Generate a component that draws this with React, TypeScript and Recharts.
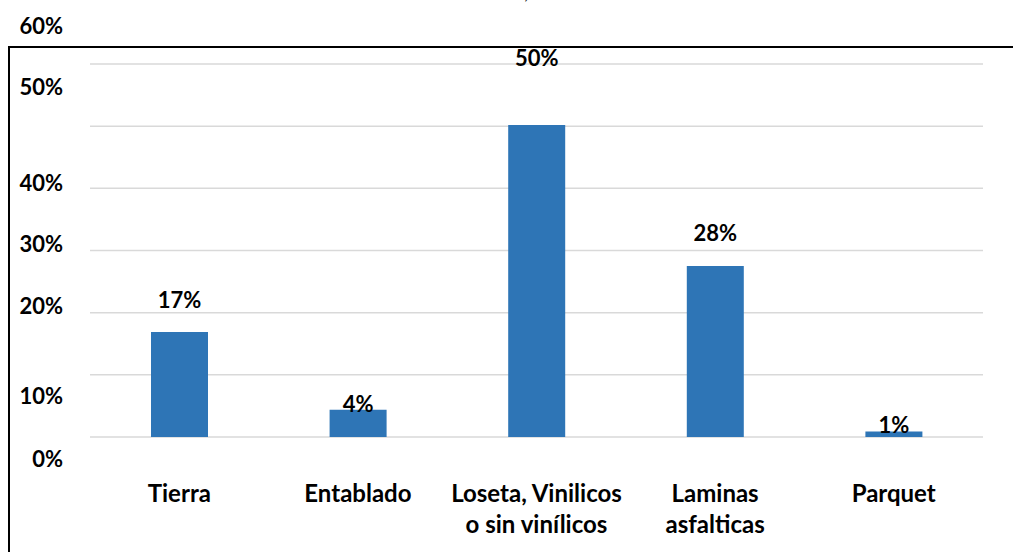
import React from "react";
import { BarChart, Bar, XAxis, YAxis, CartesianGrid, LabelList } from "recharts";

const categories = ["Tierra", "Entablado", "Loseta, Vinilicos\no sin vinílicos", "Laminas\nasfalticas", "Parquet"];
const values = [16.9, 4.4, 50.2, 27.5, 0.9];
const valueLabels = ["17%", "4%", "50%", "28%", "1%"];
const yTicks = [0, 10, 20, 30, 40, 50, 60];
const yTickLabels = ["0%", "10%", "20%", "30%", "40%", "50%", "60%"];

// styling: label offsets as they appear in the reference
const labelDy = [-32, -6, -67, -34, -7];
const yTickDy: Record<number, number> = { 0: 21, 10: 21, 20: -7, 30: -7, 40: -6, 50: -40, 60: -39 };

const data = categories.map((c, i) => ({ name: c, value: values[i], label: valueLabels[i] }));

const FONT = "Lato, 'Open Sans', sans-serif";

const XTick = (props: any) => {
  const { x, payload } = props;
  const lines = String(payload.value).split("\n");
  return (
    <g>
      {lines.map((l, i) => (
        <text key={i} x={x} y={502 + i * 31} textAnchor="middle" fontFamily={FONT} fontWeight={700} fontSize={24} fill="#000">
          {l}
        </text>
      ))}
    </g>
  );
};

const YTick = (props: any) => {
  const { y, payload } = props;
  const idx = yTicks.indexOf(payload.value);
  return (
    <text x={63} y={y + (yTickDy[payload.value] || 0)} dominantBaseline="central" textAnchor="end" fontFamily={FONT} fontWeight={700} fontSize={22} fill="#000">
      {yTickLabels[idx]}
    </text>
  );
};

const ValueLabel = (props: any) => {
  const { x, y, width, index } = props;
  return (
    <text x={x + width / 2} y={y + labelDy[index]} dominantBaseline="central" textAnchor="middle" fontFamily={FONT} fontWeight={700} fontSize={22} fill="#000">
      {valueLabels[index]}
    </text>
  );
};

export default function App() {
  return (
    <div style={{ position: "absolute", left: 0, top: 0, width: 1013, height: 552, background: "#fff", overflow: "hidden" }}>
      <div style={{ position: "absolute", left: 8, top: 46, width: 1020, height: 520, borderTop: "2px solid #000", borderLeft: "2px solid #000" }} />
      <svg style={{ position: "absolute", left: 0, top: 0 }} width={1013} height={20}>
        <text x={524} y={-1} fontFamily={FONT} fontSize={20} fill="#000">,</text>
      </svg>
      <div style={{ position: "absolute", left: 0, top: 0 }}>
        <BarChart width={1013} height={552} data={data} margin={{ top: 64, right: 30, bottom: 0, left: 8 }} barSize={57}>
          <CartesianGrid horizontal vertical={false} stroke="#d9d9d9" strokeWidth={1.5} />
          <XAxis dataKey="name" height={115} axisLine={false} tickLine={false} tick={<XTick />} interval={0} />
          <YAxis width={82} domain={[0, 60]} ticks={yTicks} axisLine={false} tickLine={false} tick={<YTick />} interval={0} />
          <Bar dataKey="value" fill="#2E75B6" isAnimationActive={false}>
            <LabelList dataKey="label" content={<ValueLabel />} />
          </Bar>
        </BarChart>
      </div>
    </div>
  );
}
